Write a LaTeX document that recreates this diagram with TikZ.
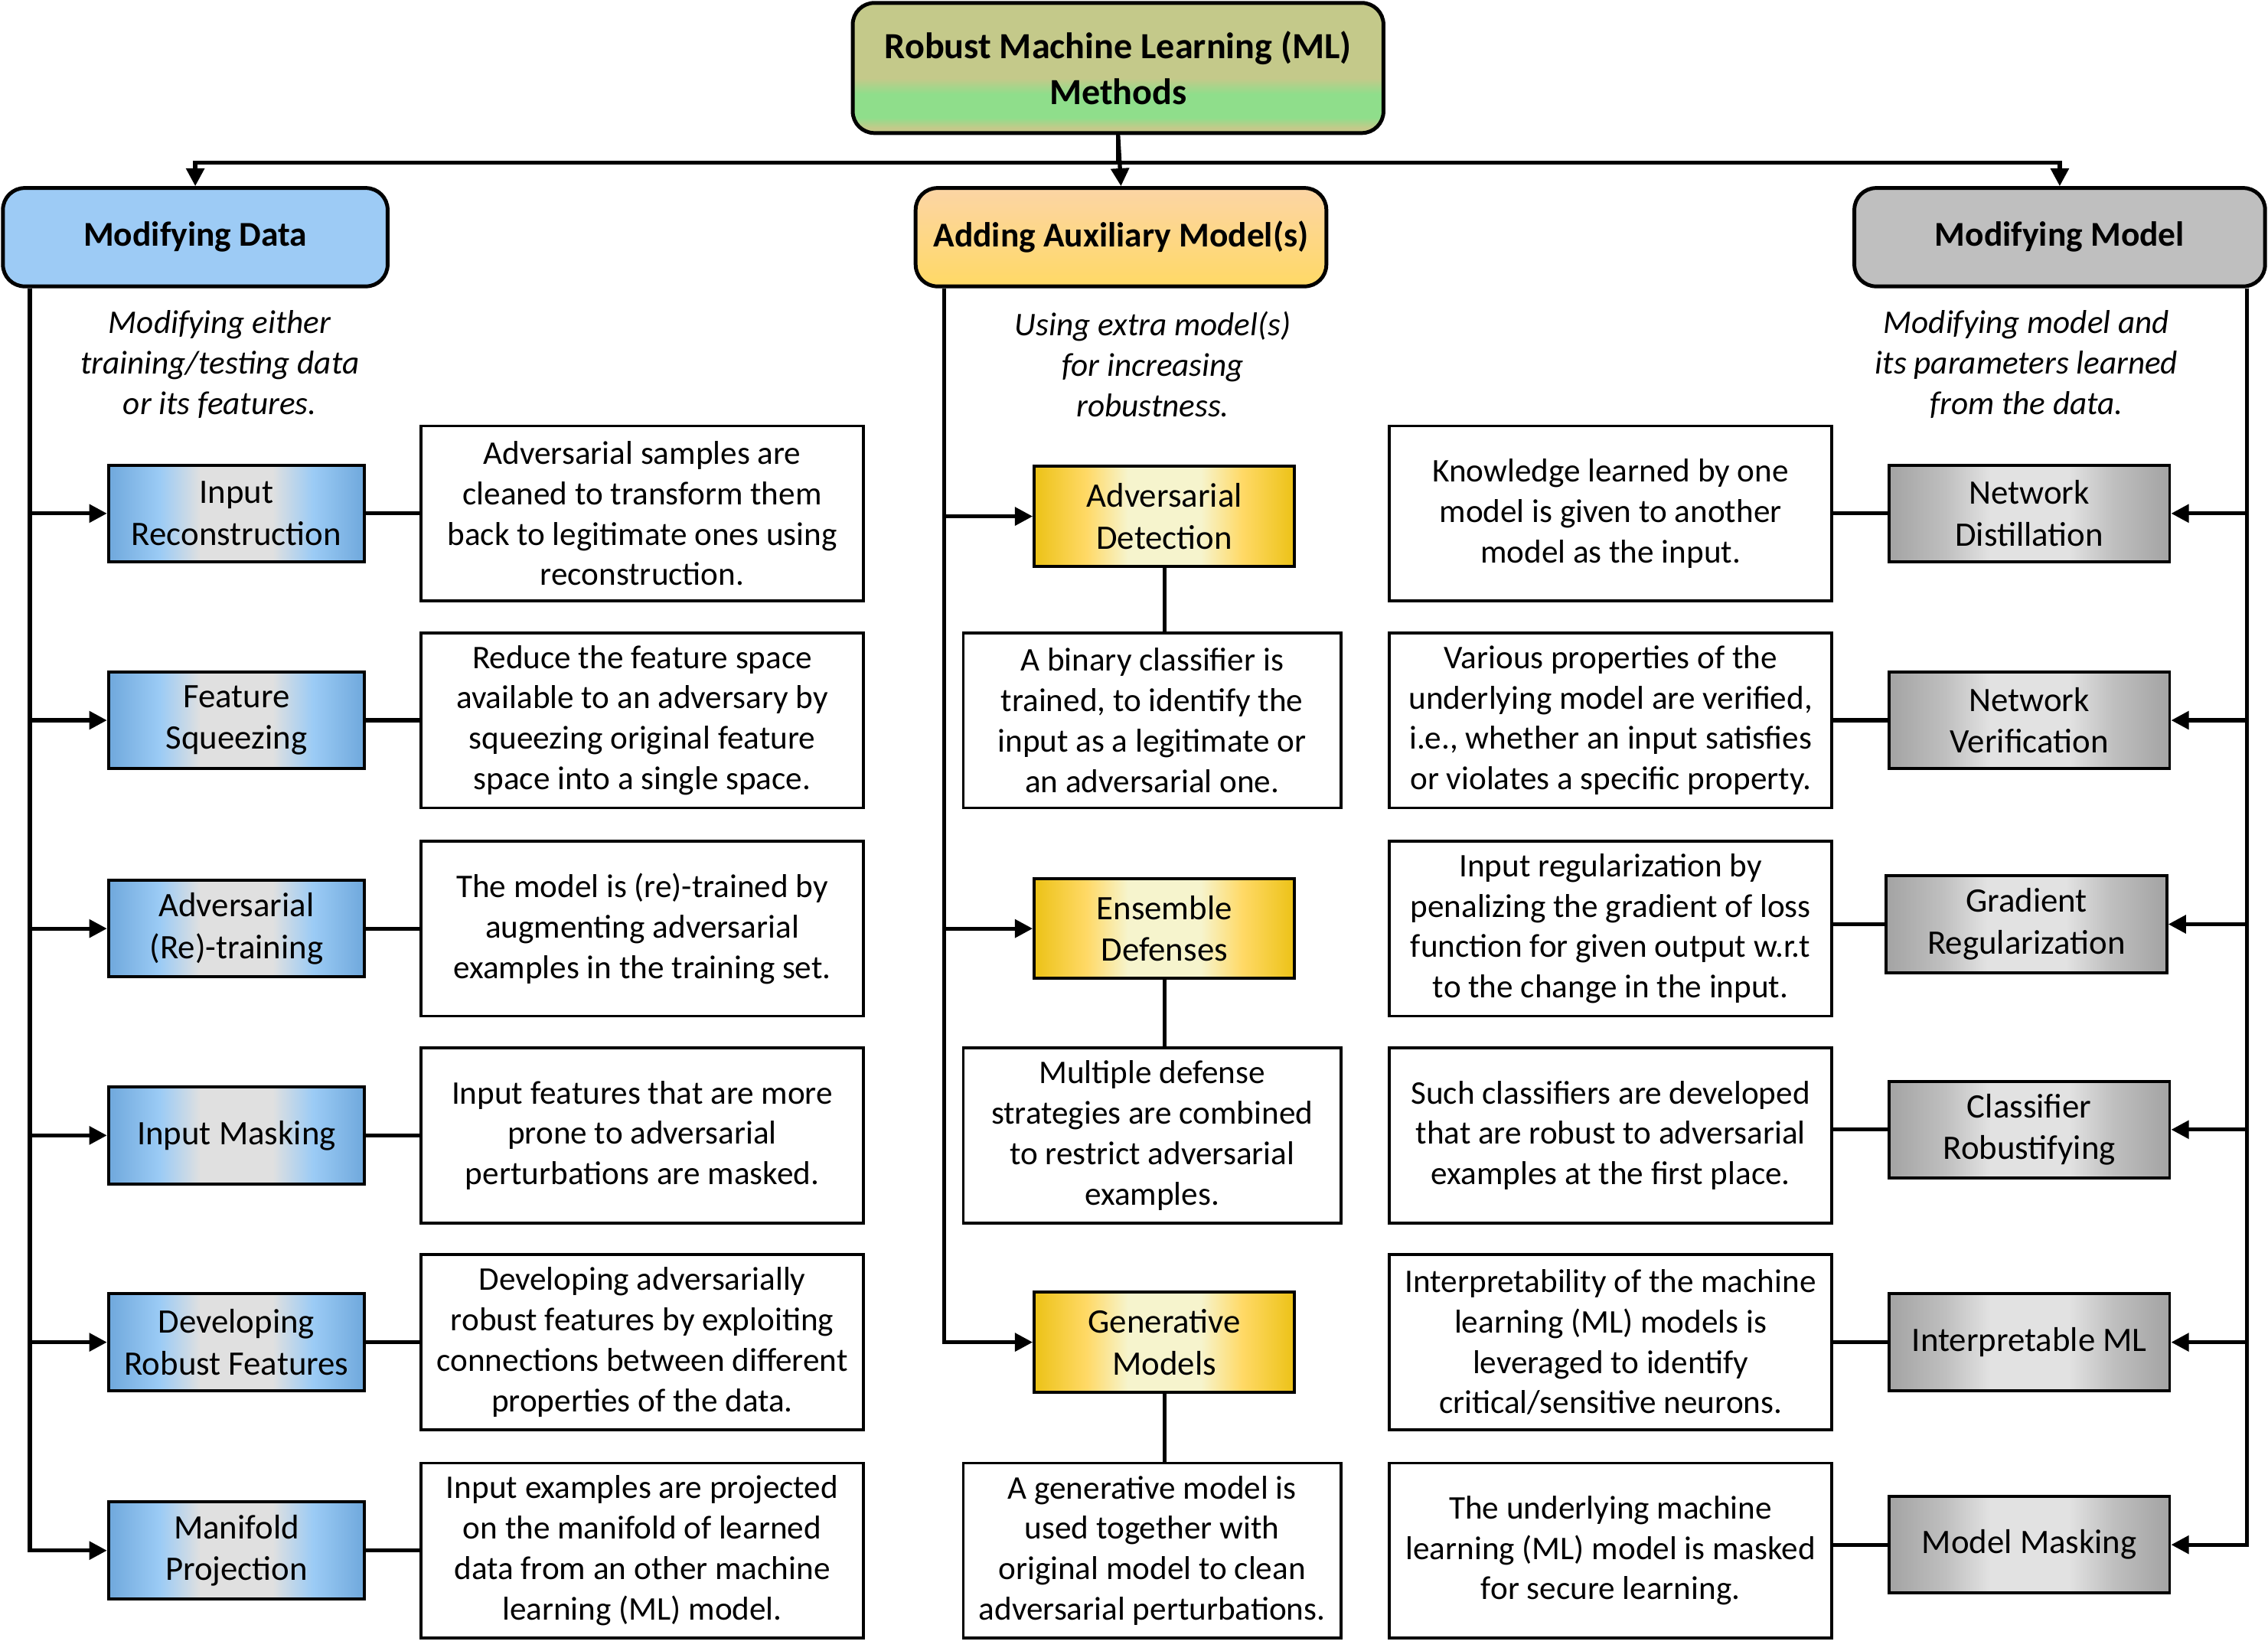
\documentclass[tikz,border=0pt]{standalone}
\usepackage{fontspec}
\setmainfont{Carlito}
\usetikzlibrary{arrows.meta}

\definecolor{rootolive}{RGB}{196,201,138}
\definecolor{rootgreen}{RGB}{143,222,139}
\definecolor{headblue}{RGB}{157,203,245}
\definecolor{headorange}{RGB}{252,213,165}
\definecolor{headyellow}{RGB}{255,217,102}
\definecolor{headgray}{RGB}{191,191,191}
\definecolor{bdark}{RGB}{111,168,220}
\definecolor{blight}{RGB}{155,203,245}
\definecolor{bmid}{RGB}{224,224,224}
\definecolor{ydark}{RGB}{236,194,22}
\definecolor{ylight}{RGB}{255,217,102}
\definecolor{ymid}{RGB}{246,244,205}
\definecolor{gdark}{RGB}{163,163,163}
\definecolor{glight}{RGB}{191,191,191}
\definecolor{gmid}{RGB}{226,226,226}

\pgfdeclareverticalshading{rootbar}{100bp}{color(0bp)=(rootolive); color(27bp)=(rootolive); color(31bp)=(rootgreen); color(40bp)=(rootgreen); color(46bp)=(rootolive); color(100bp)=(rootolive)}
\pgfdeclarehorizontalshading{bluebar}{100bp}{color(0bp)=(bdark); color(25bp)=(bdark); color(35bp)=(blight); color(43bp)=(bmid); color(57bp)=(bmid); color(65bp)=(blight); color(75bp)=(bdark); color(100bp)=(bdark)}
\pgfdeclarehorizontalshading{yellowbar}{100bp}{color(0bp)=(ydark); color(25bp)=(ydark); color(35bp)=(ylight); color(43bp)=(ymid); color(57bp)=(ymid); color(65bp)=(ylight); color(75bp)=(ydark); color(100bp)=(ydark)}
\pgfdeclarehorizontalshading{graybar}{100bp}{color(0bp)=(gdark); color(25bp)=(gdark); color(35bp)=(glight); color(43bp)=(gmid); color(57bp)=(gmid); color(65bp)=(glight); color(75bp)=(gdark); color(100bp)=(gdark)}

\tikzset{
    rootbox/.style={draw, line width=1.5pt, rounded corners=0.3cm, shading=rootbar,
        minimum width=7.34cm, minimum height=1.8cm, align=center, font=\bfseries\fontsize{14.5}{18}\selectfont},
    headbox/.style={draw, line width=1.5pt, rounded corners=0.3cm, minimum height=1.36cm, align=center,
        font=\bfseries\fontsize{13.7}{16.5}\selectfont},
    methodbox/.style={draw, line width=1.2pt, minimum height=1.34cm, align=center, font=\fontsize{13.5}{16.4}\selectfont},
    bluebox/.style={methodbox, shading=bluebar, minimum width=3.54cm},
    yellowbox/.style={methodbox, shading=yellowbar, minimum width=3.6cm, minimum height=1.38cm},
    graybox/.style={methodbox, shading=graybar, minimum width=3.88cm},
    descbox/.style={draw, line width=1.1pt, minimum width=6.12cm, minimum height=2.42cm, align=center,
        font=\fontsize{13}{15.9}\selectfont},
    note/.style={align=center, font=\itshape\fontsize{13}{15.9}\selectfont},
    link/.style={line width=1.6pt},
    arr/.style={line width=1.6pt, -{Triangle[length=7pt,width=7pt]}}
}

\begin{document}
\begin{tikzpicture}[x=0.02cm, y=-0.02cm]
        \useasboundingbox (0,0) rectangle (1568,1141);

        \node[rootbox] (root) at (773,47) {Robust Machine Learning (ML)\\Methods};

        \node[headbox, fill=headblue, minimum width=5.32cm] (data) at (135,164) {Modifying Data};
        \node[headbox, top color=headorange, bottom color=headyellow, minimum width=5.68cm] (aux) at (775,164) {Adding Auxiliary Model(s)};
        \node[headbox, fill=headgray, minimum width=5.68cm] (model) at (1424,164) {Modifying Model};

        \draw[arr] (root.south) -- (aux.north);
        \draw[arr] (root.south) -- ++(0,19) -| (data.north);
        \draw[arr] (root.south) -- ++(0,19) -| (model.north);

        \node[note] (datanote) at (152,252) {Modifying either\\training/testing data\\or its features.};
        \node[note] (auxnote) at (797,252) {Using extra model(s)\\for increasing\\robustness.};
        \node[note] (modelnote) at (1401,252) {Modifying model and\\its parameters learned\\from the data.};

        % modifying data
        \node[bluebox] (ir) at (163.5,355) {Input\\Reconstruction};
        \node[bluebox] (fs) at (163.5,498) {Feature\\Squeezing};
        \node[bluebox] (ar) at (163.5,642) {Adversarial\\(Re)-training};
        \node[bluebox] (im) at (163.5,785) {Input Masking};
        \node[bluebox] (drf) at (163.5,928) {Developing\\Robust Features};
        \node[bluebox] (mp) at (163.5,1072) {Manifold\\Projection};

        \node[descbox] (irt) at (444,355) {Adversarial samples are\\cleaned to transform them\\back to legitimate ones using\\reconstruction.};
        \node[descbox] (fst) at (444,498) {Reduce the feature space\\available to an adversary by\\squeezing original feature\\space into a single space.};
        \node[descbox] (art) at (444,642) {The model is (re)-trained by\\augmenting adversarial\\examples in the training set.};
        \node[descbox] (imt) at (444,785) {Input features that are more\\prone to adversarial\\perturbations are masked.};
        \node[descbox] (drft) at (444,928) {Developing adversarially\\robust features by exploiting\\connections between different\\properties of the data.};
        \node[descbox] (mpt) at (444,1072) {Input examples are projected\\on the manifold of learned\\data from an other machine\\learning (ML) model.};

        % adding auxiliary model(s)
        \node[yellowbox] (ad) at (805,357) {Adversarial\\Detection};
        \node[yellowbox] (ed) at (805,642) {Ensemble\\Defenses};
        \node[yellowbox] (gm) at (805,928) {Generative\\Models};

        \node[descbox, minimum width=5.22cm] (adt) at (796.5,498) {A binary classifier is\\trained, to identify the\\input as a legitimate or\\an adversarial one.};
        \node[descbox, minimum width=5.22cm] (edt) at (796.5,785) {Multiple defense\\strategies are combined\\to restrict adversarial\\examples.};
        \node[descbox, minimum width=5.22cm] (gmt) at (796.5,1072) {A generative model is\\used together with\\original model to clean\\adversarial perturbations.};

        % modifying model
        \node[graybox] (nd) at (1403,355) {Network\\Distillation};
        \node[graybox] (nv) at (1403,498) {Network\\Verification};
        \node[graybox] (gr) at (1401,639) {Gradient\\Regularization};
        \node[graybox] (cr) at (1403,781) {Classifier\\Robustifying};
        \node[graybox] (iml) at (1403,928) {Interpretable ML};
        \node[graybox] (mm) at (1403,1068) {Model Masking};

        \node[descbox] (ndt) at (1113.5,355) {Knowledge learned by one\\model is given to another\\model as the input.};
        \node[descbox] (nvt) at (1113.5,498) {Various properties of the\\underlying model are verified,\\i.e., whether an input satisfies\\or violates a specific property.};
        \node[descbox] (grt) at (1113.5,642) {Input regularization by\\penalizing the gradient of loss\\function for given output w.r.t\\to the change in the input.};
        \node[descbox] (crt) at (1113.5,785) {Such classifiers are developed\\that are robust to adversarial\\examples at the first place.};
        \node[descbox] (imlt) at (1113.5,928) {Interpretability of the machine\\learning (ML) models is\\leveraged to identify\\critical/sensitive neurons.};
        \node[descbox] (mmt) at (1113.5,1072) {The underlying machine\\learning (ML) model is masked\\for secure learning.};

        \foreach \b in {ir,fs,ar,im,drf,mp} {
            \draw[arr] ([xshift=0.4cm]data.south west) |- (\b.west);
            \draw[link] (\b.east) -- (\b.east -| \b t.west);
        }
        \foreach \b in {ad,ed,gm} {
            \draw[arr] ([xshift=0.42cm]aux.south west) |- (\b.west);
            \draw[link] (\b.south) -- (\b.south |- \b t.north);
        }
        \foreach \b in {nd,nv,gr,cr,iml,mm} {
            \draw[arr] ([xshift=-0.28cm]model.south east) |- (\b.east);
            \draw[link] (\b.west) -- (\b.west -| \b t.east);
        }
    \end{tikzpicture}
\end{document}
